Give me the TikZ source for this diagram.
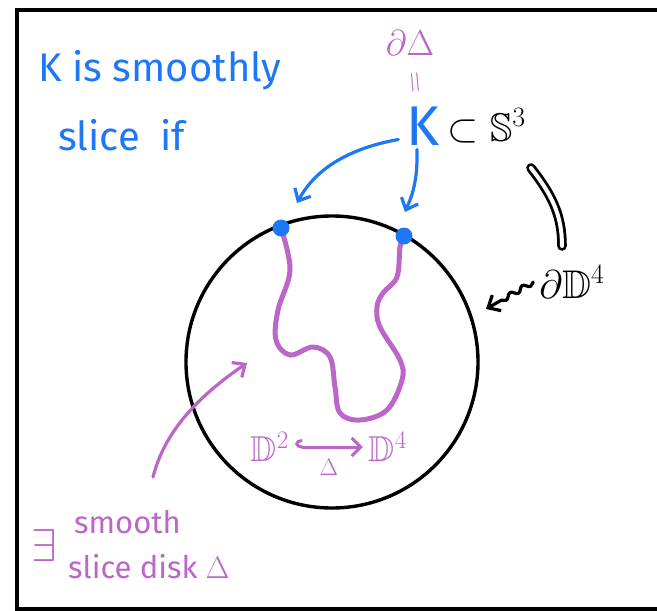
\RequirePackage{fix-cm}
\documentclass[tikz,border=0pt]{standalone}
\usepackage{amsmath, amssymb}
\DeclareFontFamily{U}{msb}{}
\DeclareFontShape{U}{msb}{m}{n}{<-6>msbm5<6-8>msbm7<8->msbm10}{}
\usepackage{fontspec}
\setmainfont{Fira Sans}
\usetikzlibrary{arrows.meta,positioning,decorations.pathmorphing}
\definecolor{knotblue}{RGB}{30,120,245}
\definecolor{diskpurple}{RGB}{187,102,200}

\tikzset{
  bluetext/.style={text=knotblue, font=\fontsize{40}{46}\selectfont, inner sep=0pt},
  purpletext/.style={text=diskpurple, font=\fontsize{31}{36}\selectfont, inner sep=0pt},
  blacktext/.style={text=black, font=\fontsize{40}{46}\selectfont, inner sep=0pt},
  kdot/.style={circle, fill=knotblue, minimum size=17pt, inner sep=0pt},
  pen/.style={line width=3.2pt, line cap=round, line join=round},
  barb/.style={-{Straight Barb[length=10pt,width=18pt]}},
}

\begin{document}
\begin{tikzpicture}[x=1pt,y=-1pt]
    \useasboundingbox (0,0) rectangle (657,611);

    % frame
    \draw[line width=3.6pt] (657,10) -- (17,10) -- (17,609) -- (657,609);

    % the 4-ball and its boundary knot
    \node[circle, draw, line width=3.4pt, minimum size=292pt, inner sep=0pt] (ball) at (332,362) {};

    % slice disk
    \draw[diskpurple, line width=5pt, line cap=round]
        plot[smooth, tension=0.6] coordinates {(281,228) (290,270) (278,310) (276,340)
        (290,355) (313,347) (330,357) (335,387) (340,413) (360,420) (387,410)
        (402,380) (400,360) (380,327) (377,307) (383,293) (397,277) (400,247) (404,236)};
    \node[kdot] (p) at (281,228) {};
    \node[kdot] (q) at (404,236) {};

    % labels
    \node[bluetext, anchor=west] (title1) at (38,70) {K is smoothly};
    \node[bluetext, anchor=west] (title2) at (58,135) {slice\hspace{10pt} if};

    \node[purpletext, font=\fontsize{36}{40}\selectfont] (bdelta) at (410,43) {$\partial\Delta$};
    \node[purpletext, rotate=95, font=\fontsize{30}{34}\selectfont] (eqp) at (417,82) {$=$};
    \node[bluetext, font=\fontsize{56}{60}\selectfont] (knot) at (423,126) {K};
    \node[blacktext, right=8pt of knot] (sphere) {$\subset\mathbb{S}^3$};
    \node[blacktext] (bdry) at (572,282) {$\partial\mathbb{D}^4$};

    \node[purpletext, font=\fontsize{36}{40}\selectfont] (dtwo) at (270,447) {$\mathbb{D}^2$};
    \node[purpletext, font=\fontsize{36}{40}\selectfont] (dfour) at (388,447) {$\mathbb{D}^4$};
    \node[purpletext, font=\fontsize{46}{50}\selectfont] (exists) at (44,546) {$\exists$};
    \node[purpletext, anchor=west] (smooth) at (74,522) {smooth};
    \node[purpletext, anchor=west] (slicedisk) at (68,567) {slice disk $\Delta$};

    % arrows
    \draw[pen, diskpurple, line width=3pt, {Hooks[right,length=7pt,width=16pt]}-{Straight Barb[length=9pt,width=18pt]}]
        ([xshift=6pt]dtwo.east) -- ([xshift=-6pt]dfour.west)
        node[midway, below=7pt, font=\fontsize{24}{28}\selectfont] (emb) {$\Delta$};

    \coordinate (ptip) at (297,203);
    \coordinate (qtip) at (405,212);
    \draw[pen, knotblue, barb] ([xshift=-8pt,yshift=6pt]knot.south west) .. controls (340,150) and (312,175) .. (ptip);
    \draw[pen, knotblue, barb] ([xshift=-6pt,yshift=-4pt]knot.south) .. controls (418,185) and (410,200) .. (qtip);

    \coordinate (eqtop) at (531,168);
    \coordinate (eqbot) at (562,246);
    \draw[pen, double, double distance=4pt, line width=2.8pt] (eqtop) .. controls (552,195) and (562,215) .. (eqbot);

    \coordinate (bdrytip) at (486,309);
    \draw[pen, barb, decorate, decoration={snake, amplitude=2.5pt, segment length=14pt, post length=14pt}]
        ([xshift=-6pt]bdry.west) -- (bdrytip);

    \coordinate (disktail) at (153,477);
    \coordinate (diskpt) at (247,363);
    \draw[pen, diskpurple, barb] (disktail) .. controls (165,430) and (200,395) .. (diskpt);
\end{tikzpicture}
\end{document}
